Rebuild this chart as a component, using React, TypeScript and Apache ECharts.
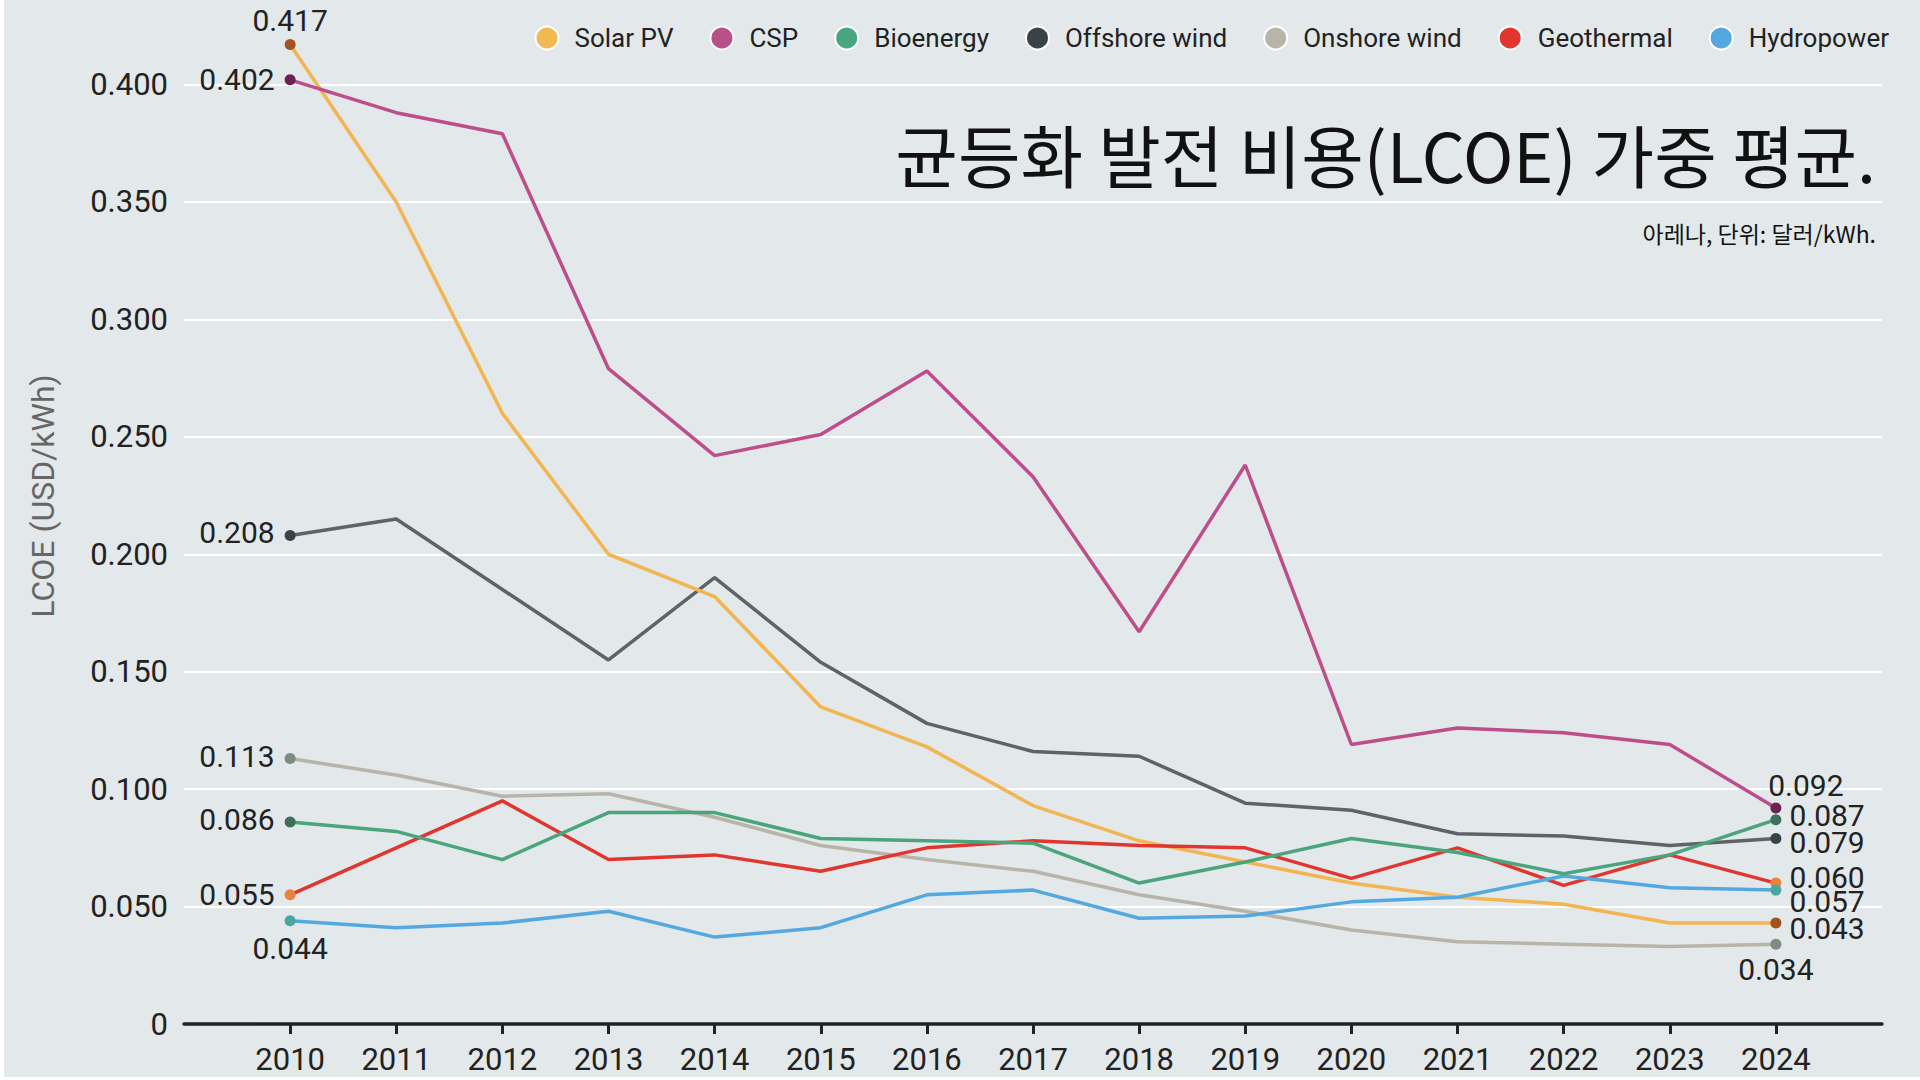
import React, { useEffect, useRef } from "react";
import * as echarts from "echarts";

// ---- data ----
const YEARS = ["2010", "2011", "2012", "2013", "2014", "2015", "2016", "2017", "2018", "2019", "2020", "2021", "2022", "2023", "2024"];
const AXIS_CATEGORIES = ["2009", ...YEARS, "2025"];
const Y_TICKS = [0, 0.05, 0.1, 0.15, 0.2, 0.25, 0.3, 0.35, 0.4];

const SOLAR_PV = [0.417, 0.350, 0.260, 0.200, 0.182, 0.135, 0.118, 0.093, 0.078, 0.069, 0.060, 0.054, 0.051, 0.043, 0.043];
const CSP = [0.402, 0.388, 0.379, 0.279, 0.242, 0.251, 0.278, 0.233, 0.167, 0.238, 0.119, 0.126, 0.124, 0.119, 0.092];
const BIOENERGY = [0.086, 0.082, 0.070, 0.090, 0.090, 0.079, 0.078, 0.077, 0.060, 0.069, 0.079, 0.073, 0.064, 0.072, 0.087];
const OFFSHORE_WIND = [0.208, 0.215, 0.185, 0.155, 0.190, 0.154, 0.128, 0.116, 0.114, 0.094, 0.091, 0.081, 0.080, 0.076, 0.079];
const ONSHORE_WIND = [0.113, 0.106, 0.097, 0.098, 0.088, 0.076, 0.070, 0.065, 0.055, 0.048, 0.040, 0.035, 0.034, 0.033, 0.034];
const GEOTHERMAL = [0.055, 0.075, 0.095, 0.070, 0.072, 0.065, 0.075, 0.078, 0.076, 0.075, 0.062, 0.075, 0.059, 0.072, 0.060];
const HYDROPOWER = [0.044, 0.041, 0.043, 0.048, 0.037, 0.041, 0.055, 0.057, 0.045, 0.046, 0.052, 0.054, 0.063, 0.058, 0.057];

const LEGEND_ORDER = ["Solar PV", "CSP", "Bioenergy", "Offshore wind", "Onshore wind", "Geothermal", "Hydropower"];

const TITLE = "균등화 발전 비용(LCOE) 가중 평균.";
const SUBTITLE = "아레나, 단위: 달러/kWh.";
const Y_NAME = "LCOE (USD/kWh)";

// ---- styles (drawing order: first = bottom) ----
type EndLabel = { position: string; distance: number; offset: [number, number] };
type SeriesStyle = {
  name: string;
  values: number[];
  color: string;
  line: string;
  dot: string;
  start: EndLabel;
  end: EndLabel;
};

const SERIES: SeriesStyle[] = [
  { name: "Onshore wind", values: ONSHORE_WIND, color: "#b8b4a8", line: "#b8b4a8", dot: "#7f8a82",
    start: { position: "left", distance: 10, offset: [0, -2] }, end: { position: "bottom", distance: 8, offset: [0, 0] } },
  { name: "Offshore wind", values: OFFSHORE_WIND, color: "#384247", line: "#5f6266", dot: "#384247",
    start: { position: "left", distance: 10, offset: [0, -3] }, end: { position: "right", distance: 8, offset: [0, 4] } },
  { name: "Solar PV", values: SOLAR_PV, color: "#f2b851", line: "#f2b552", dot: "#a1521f",
    start: { position: "top", distance: 7, offset: [0, 0] }, end: { position: "right", distance: 8, offset: [0, 5] } },
  { name: "Geothermal", values: GEOTHERMAL, color: "#e0362f", line: "#e0362f", dot: "#e8843e",
    start: { position: "left", distance: 10, offset: [0, 0] }, end: { position: "right", distance: 8, offset: [0, -6] } },
  { name: "Hydropower", values: HYDROPOWER, color: "#53a8e0", line: "#53a8e0", dot: "#4aa69e",
    start: { position: "bottom", distance: 10, offset: [0, 0] }, end: { position: "right", distance: 8, offset: [0, 11] } },
  { name: "Bioenergy", values: BIOENERGY, color: "#48a67f", line: "#4aa57d", dot: "#3d6e5e",
    start: { position: "left", distance: 10, offset: [0, -3] }, end: { position: "right", distance: 8, offset: [0, -4] } },
  { name: "CSP", values: CSP, color: "#b9508a", line: "#bd4e8a", dot: "#6b2352",
    start: { position: "left", distance: 10, offset: [0, 0] }, end: { position: "top", distance: 5, offset: [30, 0] } },
];

const BG = "#e3e8ea";
const TEXT = "#222222";
const FONT = "Roboto, 'Noto Sans', sans-serif";

function buildSeries(s: SeriesStyle) {
  const last = s.values.length - 1;
  const data = s.values.map((v, i) => {
    const isEnd = i === 0 || i === last;
    if (!isEnd) return { value: [YEARS[i], v], symbol: "none" };
    const cfg = i === 0 ? s.start : s.end;
    return {
      value: [YEARS[i], v],
      symbol: "circle",
      symbolSize: 11,
      itemStyle: { color: s.dot },
      label: {
        show: true,
        position: cfg.position,
        distance: cfg.distance,
        offset: cfg.offset,
        formatter: v.toFixed(3),
        fontFamily: FONT,
        fontSize: 30,
        lineHeight: 24,
        color: TEXT,
      },
    };
  });
  return {
    name: s.name,
    type: "line",
    data,
    clip: false,
    symbol: "circle",
    symbolSize: 11,
    showSymbol: true,
    showAllSymbol: true,
    itemStyle: { color: s.color },
    lineStyle: { color: s.line, width: 3.5 },
    emphasis: { disabled: true },
    z: 3,
  };
}

export default function App() {
  const ref = useRef<HTMLDivElement>(null);

  useEffect(() => {
    document.body.style.margin = "0";
    document.body.style.background = "#ffffff";
    if (!ref.current) return;
    const chart = echarts.init(ref.current, undefined, { renderer: "svg" });
    const tickShow = (i: number) => i > 0 && i < AXIS_CATEGORIES.length - 1;
    chart.setOption({
      animation: false,
      backgroundColor: BG,
      title: [
        {
          text: TITLE,
          right: 39,
          top: 114,
          textStyle: { fontFamily: "'Noto Sans CJK KR', sans-serif", fontSize: 68, fontWeight: 400, color: "#111111" },
        },
        {
          text: SUBTITLE,
          right: 39,
          top: 216,
          textStyle: { fontFamily: "'Noto Sans CJK KR', sans-serif", fontSize: 23, fontWeight: 400, color: "#111111" },
        },
      ],
      legend: {
        data: LEGEND_ORDER,
        right: 26,
        top: 20,
        icon: "circle",
        itemWidth: 23,
        itemHeight: 23,
        itemGap: 36,
        itemStyle: { borderColor: "#ffffff", borderWidth: 2 },
        textStyle: { fontFamily: FONT, fontSize: 26, color: TEXT, padding: [0, 0, 0, 11] },
        selectedMode: false,
      },
      grid: { left: 180, right: 38, top: 84.5, bottom: 53, containLabel: false },
      xAxis: {
        type: "category",
        data: AXIS_CATEGORIES,
        boundaryGap: false,
        axisLine: { show: true, lineStyle: { color: TEXT, width: 3.5 } },
        axisTick: { show: true, length: 10, interval: tickShow, lineStyle: { color: TEXT, width: 3 } },
        axisLabel: { interval: tickShow, margin: 20, fontFamily: FONT, fontSize: 31, color: TEXT },
        splitLine: { show: false },
      },
      yAxis: {
        type: "value",
        min: Y_TICKS[0],
        max: Y_TICKS[Y_TICKS.length - 1],
        interval: Y_TICKS[1] - Y_TICKS[0],
        axisLine: { show: false },
        axisTick: { show: false },
        axisLabel: {
          margin: 16,
          fontFamily: FONT,
          fontSize: 31,
          color: TEXT,
          formatter: (v: number) => (v === 0 ? "0" : v.toFixed(3)),
        },
        splitLine: { show: true, lineStyle: { color: "#ffffff", width: 2 } },
      },
      graphic: [
        {
          type: "text",
          x: 39,
          y: 496,
          rotation: Math.PI / 2,
          style: {
            text: Y_NAME,
            fontFamily: FONT,
            fontSize: 32,
            fill: "#666666",
            align: "center",
            verticalAlign: "middle",
          },
        },
      ],
      series: SERIES.map(buildSeries),
    });
    return () => chart.dispose();
  }, []);

  return (
    <div style={{ width: 1920, height: 1080, background: "#ffffff", position: "relative", overflow: "hidden" }}>
      <div ref={ref} style={{ position: "absolute", left: 4, top: 0, width: 1916, height: 1077 }} />
    </div>
  );
}
